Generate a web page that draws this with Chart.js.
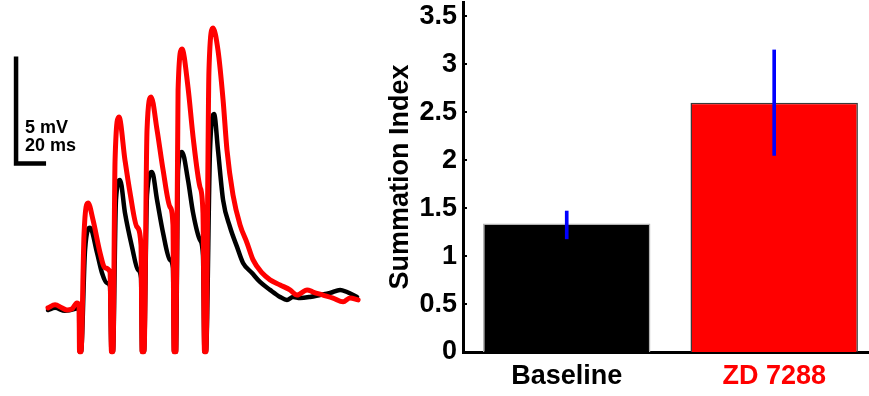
<!DOCTYPE html>
<html>
<head>
<meta charset="utf-8">
<script src="https://cdn.jsdelivr.net/npm/chart.js@4"></script>
<style>
  body { margin: 0; background: #fff; }
  #traces { position: absolute; left: 0; top: 0; }
  #summary { position: absolute; left: 380px; top: 0; }
</style>
</head>
<body>
<canvas id="traces" width="380" height="396"></canvas>
<canvas id="summary" width="489" height="396"></canvas>
<script>
// left panel: EPSP trains, time in ms, voltage in mV (relative to rest)
const baselineTime = [0, 4.7, 11.3, 18, 20.7, 21, 22, 24.7, 28, 32.7, 36, 39.3, 41.3, 42.3, 43.3, 45.3, 48, 51.3, 56, 60, 62,
    62.7, 64, 66, 69.3, 72.7, 76.7, 81.3, 83.3, 84, 85.3, 86.7, 89.3, 93.3, 96.7, 101.3, 103.3, 104.3, 105.3, 108, 110.7,
    113.3, 116.7, 121.3, 126, 130, 136, 141.3, 148, 154.7, 159.3, 163.3, 168, 174.7, 181.3, 188, 194.7, 199.3, 206];
const baselineMv = [-0.05, 0.05, -0.09, 0, 0.09, -2, -2, 2.76, 3.79, 2.62, 1.68, 1.21, 1.07, -2, -2, 5.09, 6.03, 4.49, 2.9, 1.82, 1.45,
    -2, -2, 5.33, 6.4, 5.09, 3.55, 2.29, 1.92, -2, -2, 6.5, 7.34, 6.03, 4.49, 3.22, 2.52, -2, -2, 7.43, 9.11,
    7.43, 5.09, 3.83, 2.9, 2.15, 1.68, 1.26, 0.89, 0.56, 0.42, 0.56, 0.51, 0.56, 0.65, 0.75, 0.89, 0.79, 0.56];

const zdTime = [0, 4.7, 9.3, 12.7, 16, 19.3, 20.7, 21, 22, 24, 26.7, 30, 34.7, 38, 41.3, 42.3, 43.3, 44.7, 47.3, 51.3, 54.7, 59.3, 62,
    62.7, 64, 66, 68.7, 72.7, 76.7, 81.3, 83.3, 84, 85.3, 86.7, 89.3, 93.3, 96.7, 101.3, 103.3, 104.3, 105.3, 107.3, 110,
    113.3, 116.7, 119.3, 123.3, 128, 132.7, 136.7, 142.7, 148, 154.7, 161.3, 166, 172.7, 176.7, 183.3, 190, 196.7, 201.3, 206.7];
const zdMv = [0.05, 0.19, 0.05, -0.05, 0, 0.28, 0.19, -2, -2, 3.46, 4.95, 4.16, 2.62, 1.92, 1.73, -2, -2, 6.96, 8.97, 6.96, 5.42, 3.83, 2.99,
    -2, -2, 8.36, 9.91, 8.36, 6.5, 4.77, 3.93, -2, -2, 10.23, 12.15, 10.37, 8.04, 5.7, 4.49, -2, -2, 11.17, 13.13,
    12.1, 9.77, 7.43, 5.33, 3.93, 3.08, 2.29, 1.68, 1.36, 1.12, 0.89, 0.65, 0.89, 0.79, 0.65, 0.51, 0.33, 0.51, 0.42];

// scale bar: 20 ms by 5 mV
const scaleBarTime = [-21.3, -21.3, -1.3];
const scaleBarMv = [11.8, 6.8, 6.8];
const scaleBarLabels = ['5 mV', '20 ms'];

// right panel: summation index
const categories = ['Baseline', 'ZD 7288'];
const summationMean = [1.34, 2.6];
const summationLow = [1.18, 2.05];
const summationHigh = [1.47, 3.15];
const yTicks = [0, 0.5, 1, 1.5, 2, 2.5, 3, 3.5];

const barColors = ['#000000', '#ff0000'];
const barEdges = ['#b4b4b4', '#3a3a3a'];
const labelColors = ['#000000', '#ff0000'];
const font = '"Liberation Sans", Arial, sans-serif';

function toPoints(xs, ys) {
    return xs.map((x, i) => ({x: x, y: ys[i]}));
}

const scaleBarText = {
    id: 'scaleBarText',
    afterDatasetsDraw(chart) {
        const ctx = chart.ctx;
        const x = chart.scales.x, y = chart.scales.y;
        const left = x.getPixelForValue(scaleBarTime[0]) + 9;
        const bottom = y.getPixelForValue(scaleBarMv[1]);
        ctx.save();
        ctx.font = 'bold 18px ' + font;
        ctx.fillStyle = '#000';
        ctx.textBaseline = 'middle';
        ctx.fillText(scaleBarLabels[0], left, bottom - 35);
        ctx.fillText(scaleBarLabels[1], left, bottom - 17);
        ctx.restore();
    }
};

// small inward tick marks on the y axis, like the original figure
const innerTicks = {
    id: 'innerTicks',
    afterDraw(chart) {
        const ctx = chart.ctx;
        const y = chart.scales.y;
        ctx.save();
        ctx.strokeStyle = '#000';
        ctx.lineWidth = 2;
        yTicks.forEach(v => {
            const py = Math.round(y.getPixelForValue(v));
            ctx.beginPath();
            ctx.moveTo(y.right, py);
            ctx.lineTo(y.right + 4, py);
            ctx.stroke();
        });
        ctx.restore();
    }
};

new Chart(document.getElementById('traces'), {
    type: 'line',
    data: {
        datasets: [
            {
                label: 'Baseline',
                data: toPoints(baselineTime, baselineMv),
                borderColor: '#000000',
                borderWidth: 4.5,
                cubicInterpolationMode: 'monotone',
                order: 2
            },
            {
                label: 'ZD 7288',
                data: toPoints(zdTime, zdMv),
                borderColor: '#ff0000',
                borderWidth: 5,
                cubicInterpolationMode: 'monotone',
                order: 1
            },
            {
                label: 'scale',
                data: toPoints(scaleBarTime, scaleBarMv),
                borderColor: '#000000',
                borderWidth: 4.5,
                borderJoinStyle: 'miter',
                borderCapStyle: 'butt',
                order: 0
            }
        ]
    },
    options: {
        responsive: false,
        animation: false,
        elements: {point: {radius: 0}, line: {tension: 0, borderJoinStyle: 'round', borderCapStyle: 'round'}},
        layout: {padding: 0},
        scales: {
            x: {type: 'linear', display: false, min: -32, max: 221.3},
            y: {type: 'linear', display: false, min: -4.07, max: 14.44}
        },
        plugins: {legend: {display: false}, tooltip: {enabled: false}}
    },
    plugins: [scaleBarText]
});

new Chart(document.getElementById('summary'), {
    type: 'bar',
    data: {
        datasets: [
            {
                label: 'SEM',
                data: toPoints([1, 2], summationLow.map((lo, i) => [lo, summationHigh[i]])),
                backgroundColor: '#0000ff',
                barThickness: 3,
                grouped: false,
                order: 0
            },
            {
                label: 'Summation Index',
                data: toPoints([1, 2], summationMean),
                backgroundColor: barColors,
                borderColor: barEdges,
                borderWidth: 1.5,
                barPercentage: 0.807,
                categoryPercentage: 1,
                grouped: false,
                order: 1
            }
        ]
    },
    options: {
        responsive: false,
        animation: false,
        layout: {padding: {top: 2, right: 0, left: 0, bottom: 0}},
        scales: {
            x: {
                type: 'linear',
                offset: false,
                min: 0.5,
                max: 2.457,
                grid: {display: false, drawTicks: false, offset: false},
                border: {color: '#000', width: 3},
                afterBuildTicks: scale => { scale.ticks = [{value: 1}, {value: 2}]; },
                afterFit: scale => { scale.height = 44; scale.paddingLeft = 0; scale.paddingRight = 0; },
                ticks: {
                    padding: 8,
                    font: {family: font, size: 27, weight: 'bold'},
                    color: ctx => labelColors[ctx.index],
                    callback: value => categories[value - 1]
                }
            },
            y: {
                min: 0,
                max: 3.65,
                grid: {display: false, drawTicks: false},
                border: {color: '#000', width: 3},
                afterBuildTicks: scale => { scale.ticks = yTicks.map(v => ({value: v})); },
                afterFit: scale => { scale.width = 83; scale.paddingTop = 0; scale.paddingBottom = 0; },
                ticks: {
                    padding: 6,
                    font: {family: font, size: 27, weight: 'bold'},
                    color: '#000',
                    callback: value => String(value)
                },
                title: {
                    display: true,
                    text: 'Summation Index',
                    color: '#000',
                    font: {family: font, size: 27, weight: 'bold'}
                }
            }
        },
        plugins: {legend: {display: false}, tooltip: {enabled: false}}
    },
    plugins: [innerTicks]
});
</script>
</body>
</html>
